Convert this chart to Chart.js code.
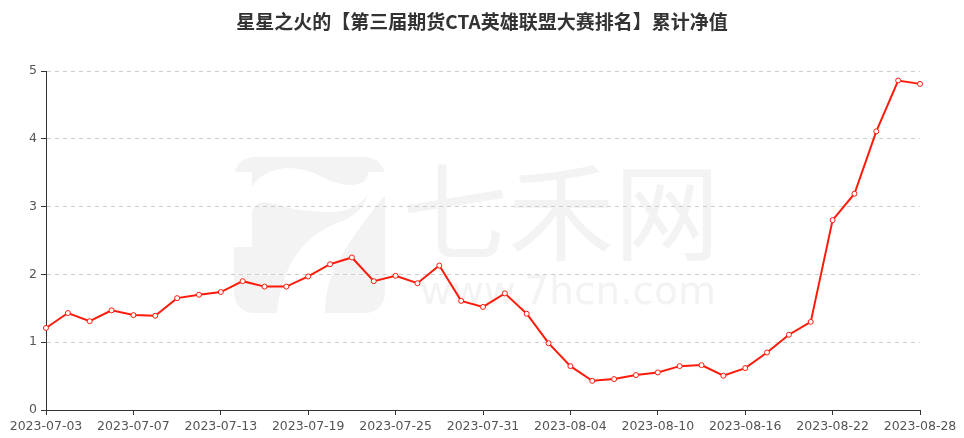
<!DOCTYPE html>
<html>
<head>
<meta charset="utf-8">
<script src="https://cdn.jsdelivr.net/npm/chart.js@4"></script>
<style>
  body { margin: 0; background: #fff; }
  #wrap { width: 964px; height: 438px; }
</style>
</head>
<body>
<div id="wrap"><canvas id="jingzhi" width="964" height="438"></canvas></div>
<script>
const chartTitle = '星星之火的【第三届期货CTA英雄联盟大赛排名】累计净值'

const fechas = [
    '2023-07-03','2023-07-04','2023-07-05','2023-07-06','2023-07-07',
    '2023-07-10','2023-07-11','2023-07-12','2023-07-13','2023-07-14',
    '2023-07-17','2023-07-18','2023-07-19','2023-07-20','2023-07-21',
    '2023-07-24','2023-07-25','2023-07-26','2023-07-27','2023-07-28',
    '2023-07-31','2023-08-01','2023-08-02','2023-08-03','2023-08-04',
    '2023-08-07','2023-08-08','2023-08-09','2023-08-10','2023-08-11',
    '2023-08-14','2023-08-15','2023-08-16','2023-08-17','2023-08-18',
    '2023-08-21','2023-08-22','2023-08-23','2023-08-24','2023-08-25',
    '2023-08-28'
]

const valores = [
    1.21, 1.43, 1.31, 1.47, 1.40, 1.39, 1.65, 1.70, 1.74, 1.90,
    1.82, 1.82, 1.97, 2.15, 2.25, 1.90, 1.98, 1.87, 2.13, 1.61,
    1.52, 1.72, 1.42, 0.985, 0.647, 0.43, 0.456, 0.515, 0.554, 0.647,
    0.662, 0.505, 0.618, 0.848, 1.11, 1.30, 2.80, 3.19, 4.11, 4.86,
    4.81
]

const yTicks = [0, 1, 2, 3, 4, 5]

// marca de agua de fondo (debajo de la rejilla)
const marcaAgua = {
    id: 'marcaAgua',
    beforeDraw(chart) {
        const ctx = chart.ctx
        ctx.save()
        ctx.fillStyle = '#f3f3f3'
        ctx.beginPath()
        ctx.roundRect(234, 157, 151, 156, 20)
        ctx.fill()
        // hueco blanco en forma de 7
        ctx.fillStyle = '#fff'
        ctx.beginPath()
        ctx.moveTo(234, 172)
        ctx.lineTo(252, 172)
        ctx.lineTo(252, 187)
        ctx.quadraticCurveTo(262, 170, 287, 168)
        ctx.quadraticCurveTo(305, 168, 320, 176)
        ctx.quadraticCurveTo(340, 186, 352, 185)
        ctx.quadraticCurveTo(368, 184, 368, 172)
        ctx.lineTo(385, 172)
        ctx.lineTo(385, 195)
        ctx.quadraticCurveTo(340, 250, 330, 280)
        ctx.quadraticCurveTo(325, 295, 325, 313)
        ctx.lineTo(277, 313)
        ctx.quadraticCurveTo(282, 260, 315, 235)
        ctx.quadraticCurveTo(330, 225, 345, 220)
        ctx.quadraticCurveTo(362, 212, 368, 195)
        ctx.quadraticCurveTo(355, 212, 330, 212)
        ctx.quadraticCurveTo(300, 212, 275, 204)
        ctx.quadraticCurveTo(256, 198, 252, 212)
        ctx.lineTo(252, 247)
        ctx.lineTo(234, 247)
        ctx.closePath()
        ctx.fill()
        ctx.fillStyle = '#f3f3f3'
        ctx.font = '106px "Noto Sans CJK SC"'
        ctx.textBaseline = 'middle'
        ctx.textAlign = 'left'
        ctx.fillText('七禾网', 402, 212)
        ctx.font = '39px "DejaVu Sans"'
        ctx.fillText('www.7hcn.com', 420, 294)
        ctx.restore()
    },
    afterDraw(chart) {
        const ctx = chart.ctx
        ctx.save()
        ctx.fillStyle = '#333'
        ctx.font = 'bold 19px "Noto Sans CJK SC", sans-serif'
        ctx.textAlign = 'center'
        ctx.textBaseline = 'middle'
        ctx.fillText(chartTitle, 482, 22)
        ctx.restore()
    }
}

let canvasJingzhi = document.getElementById('jingzhi')

let grafJingzhi = new Chart(canvasJingzhi, {
    type: 'line',
    data: {
        labels: fechas,
        datasets: [
            {
            data: valores,
            borderColor: '#ff1a0a',
            borderWidth: 2,
            backgroundColor: '#ffffff',
            pointBackgroundColor: '#ffffff',
            pointBorderColor: '#ff1a0a',
            pointBorderWidth: 1,
            pointRadius: 2.5,
            tension: 0
            }
        ]
    },
    options: {
        responsive: false,
        animation: false,
        layout: { padding: { left: 0, right: 44, top: 71, bottom: 0 } },
        plugins: {
            legend: { display: false },
            tooltip: { enabled: false },
            title: { display: false }
        },
        scales: {
            x: {
                offset: false,
                afterFit: (scale) => { scale.height = 28 },
                grid: {
                    drawOnChartArea: false,
                    tickLength: 5,
                    tickColor: (ctx) => ctx.index % 4 === 0 ? '#333' : 'rgba(0,0,0,0)'
                },
                border: { color: '#333', width: 1 },
                ticks: {
                    autoSkip: false,
                    maxRotation: 0,
                    color: '#555',
                    padding: 4,
                    font: { size: 12.5, family: '"DejaVu Sans", sans-serif' },
                    callback: function(val, i) { return i % 4 === 0 ? fechas[i] : '' }
                }
            },
            y: {
                min: 0,
                max: 5,
                afterFit: (scale) => { scale.width = 46 },
                afterBuildTicks: (scale) => { scale.ticks = yTicks.map(v => ({ value: v })) },
                grid: {
                    color: '#cccccc',
                    tickColor: '#333',
                    tickLength: 5
                },
                border: { color: '#333', width: 1, dash: [4, 4] },
                ticks: {
                    color: '#555',
                    padding: 4,
                    font: { size: 12.5, family: '"DejaVu Sans", sans-serif' }
                }
            }
        }
    },
    plugins: [marcaAgua]
})
</script>
</body>
</html>
